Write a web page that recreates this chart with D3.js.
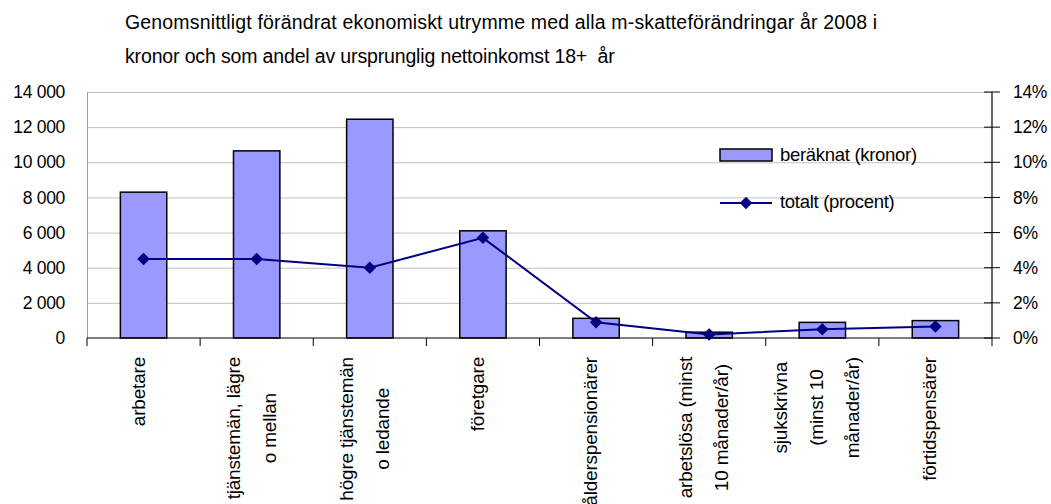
<!DOCTYPE html>
<html>
<head>
<meta charset="utf-8">
<script src="https://cdn.jsdelivr.net/npm/d3@7"></script>
<style>
  body { margin: 0; background: #fff; }
  svg { font-family: "Liberation Sans", Arial, sans-serif; }
</style>
</head>
<body>
<svg id="chart" width="1051" height="504"></svg>
<script>
// data
const categories = [
  ["arbetare"],
  ["tjänstemän, lägre", "o mellan"],
  ["högre tjänstemän", "o ledande"],
  ["företgare"],
  ["ålderspensionärer"],
  ["arbetslösa (minst", "10 månader/år)"],
  ["sjukskrivna", "(minst 10", "månader/år)"],
  ["förtidspensärer"]
];
const kronor = [8300, 10650, 12450, 6100, 1120, 330, 890, 990];
const procent = [4.5, 4.5, 4.0, 5.7, 0.9, 0.2, 0.5, 0.65];
const leftTicks = [0, 2000, 4000, 6000, 8000, 10000, 12000, 14000];
const rightTicks = [0, 2, 4, 6, 8, 10, 12, 14];
const titleLines = [
  "Genomsnittligt förändrat ekonomiskt utrymme med alla m-skatteförändringar år 2008 i",
  "kronor och som andel av ursprunglig nettoinkomst 18+  år"
];

const svg = d3.select("#chart");
const plot = { left: 87, right: 992, top: 92, bottom: 338 };

const x = d3.scaleBand().domain(d3.range(categories.length))
  .range([plot.left, plot.right]).paddingInner(0.59).paddingOuter(0.295);
const yL = d3.scaleLinear().domain([0, 14000]).range([plot.bottom, plot.top]);
const yR = d3.scaleLinear().domain([0, 14]).range([plot.bottom, plot.top]);
const step = (plot.right - plot.left) / categories.length;

// title (first line stretched to the width it has in the original)
svg.append("g").selectAll("text").data(titleLines).join("text")
  .attr("x", 125).attr("y", (d, i) => 29 + i * 34)
  .attr("font-size", 19.5).attr("letter-spacing", -0.15)
  .attr("textLength", (d, i) => i === 0 ? 752 : null)
  .attr("lengthAdjust", "spacing")
  .attr("fill", "#000").style("white-space", "pre").text(d => d);

// gridlines
svg.append("g").selectAll("line").data(leftTicks.slice(1)).join("line")
  .attr("x1", plot.left).attr("x2", plot.right)
  .attr("y1", d => yL(d) + 0.5).attr("y2", d => yL(d) + 0.5)
  .attr("stroke", "#c0c0c0").attr("stroke-width", 1);
svg.append("line").attr("x1", plot.left + 0.5).attr("x2", plot.left + 0.5)
  .attr("y1", plot.top).attr("y2", plot.bottom).attr("stroke", "#a0a0a0");

// left labels
svg.append("g").selectAll("text").data(leftTicks).join("text")
  .attr("x", 65).attr("y", d => yL(d)).attr("dy", "0.35em")
  .attr("text-anchor", "end").attr("font-size", 17.5).attr("letter-spacing", -0.3)
  .text(d => d3.format(",")(d).replace(/,/g, " "));

// bars
svg.append("g").selectAll("rect").data(kronor).join("rect")
  .attr("x", (d, i) => x(i)).attr("width", x.bandwidth())
  .attr("y", d => yL(d)).attr("height", d => plot.bottom - yL(d))
  .attr("fill", "#9999ff").attr("stroke", "#000").attr("stroke-width", 1.5);

// bottom axis
svg.append("line").attr("x1", plot.left).attr("x2", plot.right)
  .attr("y1", plot.bottom).attr("y2", plot.bottom).attr("stroke", "#000").attr("stroke-width", 1.2);
svg.append("g").selectAll("line").data(d3.range(categories.length + 1)).join("line")
  .attr("x1", i => plot.left + i * step).attr("x2", i => plot.left + i * step)
  .attr("y1", plot.bottom).attr("y2", plot.bottom + 8).attr("stroke", "#000");

// right axis
svg.append("line").attr("x1", plot.right).attr("x2", plot.right)
  .attr("y1", plot.top).attr("y2", plot.bottom).attr("stroke", "#000").attr("stroke-width", 1.2);
svg.append("g").selectAll("line").data(rightTicks).join("line")
  .attr("x1", plot.right - 8).attr("x2", plot.right + 8)
  .attr("y1", d => yR(d)).attr("y2", d => yR(d)).attr("stroke", "#000");
svg.append("g").selectAll("text").data(rightTicks).join("text")
  .attr("x", 1013).attr("y", d => yR(d)).attr("dy", "0.35em")
  .attr("font-size", 17.5).attr("letter-spacing", -0.3)
  .text(d => d + "%");

// line series
const cx = i => x(i) + x.bandwidth() / 2;
svg.append("path").datum(procent)
  .attr("d", d3.line().x((d, i) => cx(i)).y(d => yR(d)))
  .attr("fill", "none").attr("stroke", "#000080").attr("stroke-width", 2);
const diamond = d3.symbol().type(d3.symbolDiamond2).size(100);
svg.append("g").selectAll("path").data(procent).join("path")
  .attr("transform", (d, i) => `translate(${cx(i)},${yR(d)})`)
  .attr("d", diamond).attr("fill", "#000080");

// category labels, rotated
const labelTop = 357, lineGap = 36;
categories.forEach((lines, i) => {
  const g = svg.append("g");
  const texts = g.selectAll("text").data(lines).join("text")
    .attr("font-size", 19).attr("letter-spacing", -0.2)
    .attr("text-anchor", "middle").text(d => d);
  let maxLen = 0;
  texts.each(function () { maxLen = Math.max(maxLen, this.getComputedTextLength()); });
  const cy = labelTop + maxLen / 2;
  const n = lines.length;
  texts.attr("transform", (d, j) => {
    const lx = cx(i) + (j - (n - 1) / 2) * lineGap + 1;
    return `translate(${lx},${cy}) rotate(-90)`;
  });
});

// legend
const lg = svg.append("g");
lg.append("rect").attr("x", 720).attr("y", 149).attr("width", 52).attr("height", 12)
  .attr("fill", "#9999ff").attr("stroke", "#000").attr("stroke-width", 1.5);
lg.append("text").attr("x", 780).attr("y", 155).attr("dy", "0.35em")
  .attr("font-size", 18.5).attr("letter-spacing", -0.3).text("beräknat (kronor)");
lg.append("line").attr("x1", 720).attr("x2", 772).attr("y1", 203).attr("y2", 203)
  .attr("stroke", "#000080").attr("stroke-width", 2);
lg.append("path").attr("transform", "translate(746,203)").attr("d", diamond).attr("fill", "#000080");
lg.append("text").attr("x", 780).attr("y", 202).attr("dy", "0.35em")
  .attr("font-size", 18.5).attr("letter-spacing", -0.3).text("totalt (procent)");
</script>
</body>
</html>
